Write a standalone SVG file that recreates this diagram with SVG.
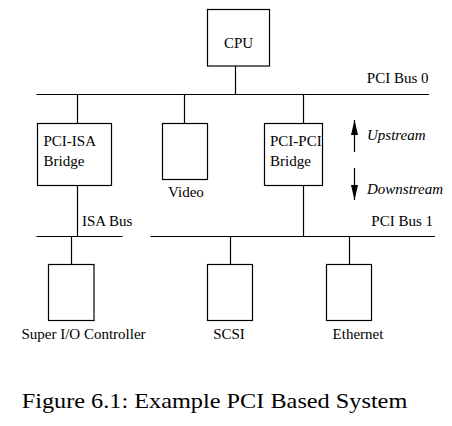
<svg xmlns="http://www.w3.org/2000/svg" width="452" height="426" viewBox="0 0 452 426">
<style>
.box{fill:#fff;stroke:#000;stroke-width:1.2}
.ln{stroke:#000;stroke-width:1.2;fill:none}
text{font-family:"Liberation Serif","Times New Roman",serif;font-size:15px;fill:#000}
.it{font-style:italic}
.cap{font-size:21px}
</style>
<defs>
<marker id="ah" viewBox="0 0 15 7" refX="15" refY="3.5" markerWidth="15" markerHeight="7" markerUnits="userSpaceOnUse" orient="auto"><path d="M0,0 L15,3.5 L0,7 Z" fill="#000"/></marker>
</defs>
<rect width="452" height="426" fill="#fff"/>
<g id="connectors">
<line class="ln" x1="235.5" y1="66" x2="235.5" y2="94.5"/>
<line class="ln" x1="36.5" y1="94.5" x2="429" y2="94.5"/>
<line class="ln" x1="77.5" y1="94.5" x2="77.5" y2="123.5"/>
<line class="ln" x1="184.5" y1="94.5" x2="184.5" y2="123.5"/>
<line class="ln" x1="303.5" y1="94.5" x2="303.5" y2="123.5"/>
<line class="ln" x1="77.5" y1="185.5" x2="77.5" y2="236.5"/>
<line class="ln" x1="36.5" y1="236.5" x2="122.5" y2="236.5"/>
<line class="ln" x1="150.5" y1="236.5" x2="435" y2="236.5"/>
<line class="ln" x1="303.5" y1="185.5" x2="303.5" y2="236.5"/>
<line class="ln" x1="71.5" y1="236.5" x2="71.5" y2="264.5"/>
<line class="ln" x1="230.5" y1="236.5" x2="230.5" y2="264.5"/>
<line class="ln" x1="349.5" y1="236.5" x2="349.5" y2="264.5"/>
<line class="ln" x1="354.5" y1="152" x2="354.5" y2="120" marker-end="url(#ah)"/>
<line class="ln" x1="354.5" y1="168" x2="354.5" y2="200" marker-end="url(#ah)"/>
</g>
<g id="cpu"><rect class="box" x="207.5" y="9.5" width="62" height="56.5"/><text x="238.5" y="48" text-anchor="middle">CPU</text></g>
<g id="pci-isa"><rect class="box" x="37.5" y="123.5" width="74" height="62"/><text x="43.5" y="146">PCI-ISA</text><text x="43.5" y="166">Bridge</text></g>
<g id="video"><rect class="box" x="162.5" y="123.5" width="45" height="56"/><text x="186" y="197" text-anchor="middle">Video</text></g>
<g id="pci-pci"><rect class="box" x="264.5" y="123.5" width="58" height="62"/><text x="270" y="146">PCI-PCI</text><text x="270" y="166">Bridge</text></g>
<g id="super-io"><rect class="box" x="48.5" y="264.5" width="45.5" height="56"/><text x="83.5" y="338.5" text-anchor="middle">Super I/O Controller</text></g>
<g id="scsi"><rect class="box" x="207.5" y="264.5" width="45" height="56"/><text x="229" y="338.5" text-anchor="middle">SCSI</text></g>
<g id="ethernet"><rect class="box" x="326.5" y="264.5" width="45" height="56"/><text x="358" y="338.5" text-anchor="middle">Ethernet</text></g>
<g id="labels">
<text x="428.5" y="83" text-anchor="end">PCI Bus 0</text>
<text x="82" y="226">ISA Bus</text>
<text x="433" y="226" text-anchor="end">PCI Bus 1</text>
<text class="it" x="367" y="139.5">Upstream</text>
<text class="it" x="367" y="193.5">Downstream</text>
<text class="cap" x="21.7" y="407.5" textLength="385.6" lengthAdjust="spacingAndGlyphs">Figure 6.1: Example PCI Based System</text>
</g>
</svg>
